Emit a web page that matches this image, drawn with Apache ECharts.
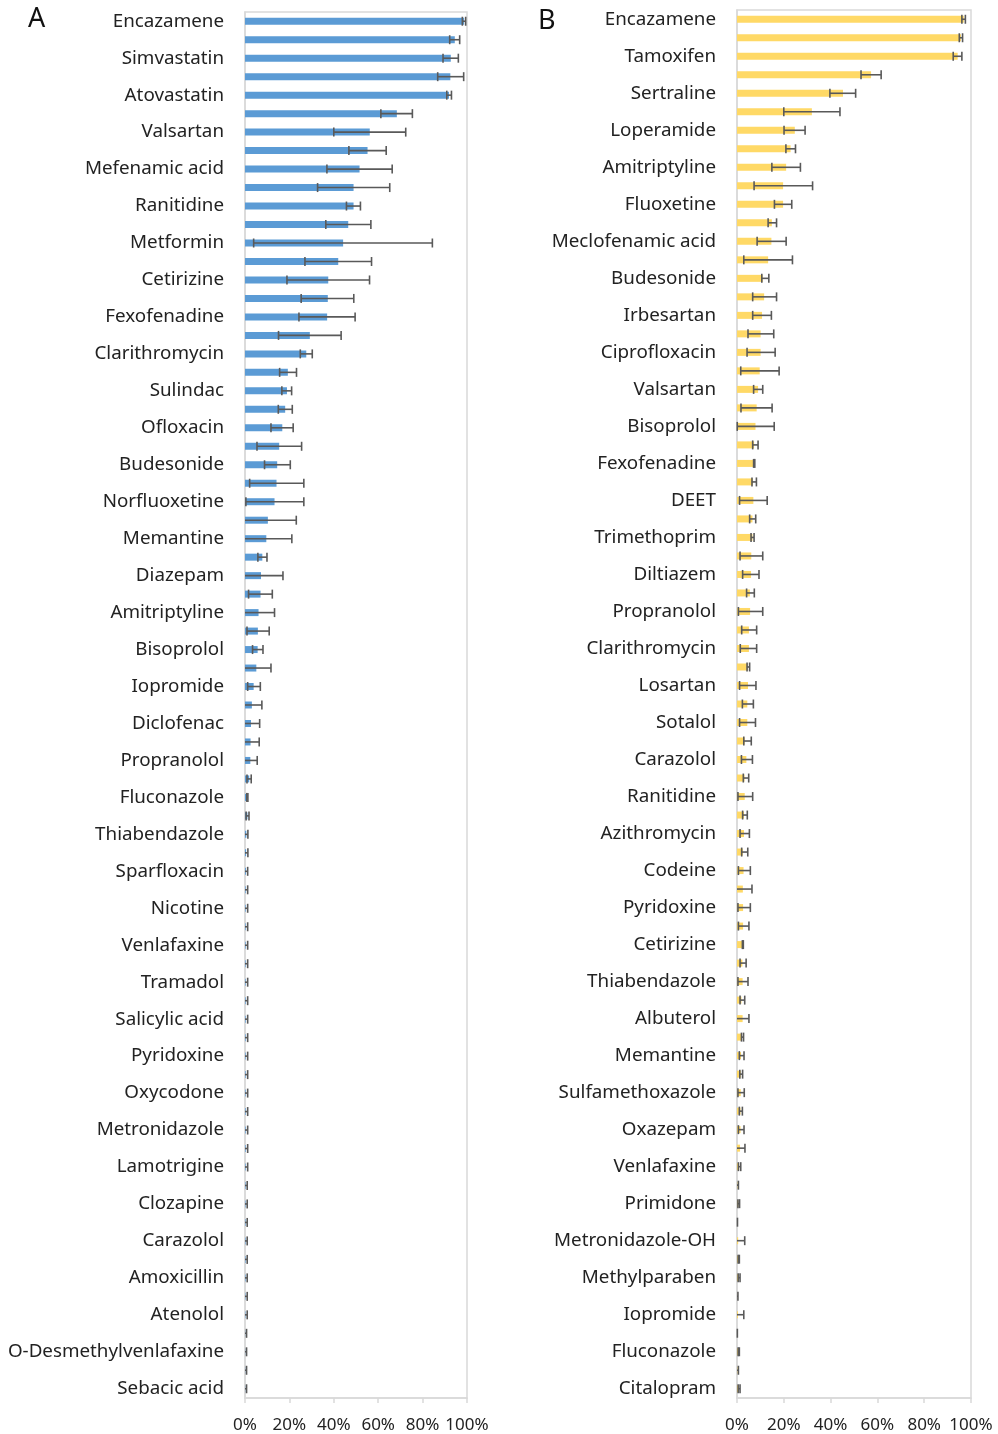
<!DOCTYPE html>
<html>
<head>
<meta charset="utf-8">
<script src="https://cdn.jsdelivr.net/npm/echarts@6/dist/echarts.min.js"></script>
<style>
html,body{margin:0;padding:0;background:#fff;}
#chart{width:998px;height:1434px;}
</style>
</head>
<body>
<div id="chart"></div>
<script>
// ---- Panel A: labels shown on every other category (75 categories) ----
const labelsA = ['Encazamene','Simvastatin','Atovastatin','Valsartan','Mefenamic acid','Ranitidine','Metformin','Cetirizine','Fexofenadine','Clarithromycin','Sulindac','Ofloxacin','Budesonide','Norfluoxetine','Memantine','Diazepam','Amitriptyline','Bisoprolol','Iopromide','Diclofenac','Propranolol','Fluconazole','Thiabendazole','Sparfloxacin','Nicotine','Venlafaxine','Tramadol','Salicylic acid','Pyridoxine','Oxycodone','Metronidazole','Lamotrigine','Clozapine','Carazolol','Amoxicillin','Atenolol','O-Desmethylvenlafaxine','Sebacic acid'];
const valuesA = [98.7,94.5,92.7,92.5,91.9,68.4,56.2,55.2,51.6,48.9,48.9,46.5,44.2,42.0,37.5,37.3,37.0,29.2,27.6,19.3,18.9,18.1,16.8,15.4,14.5,14.2,13.3,10.3,9.6,7.8,7.2,7.0,6.1,5.8,5.7,5.1,3.9,3.1,2.7,2.5,2.4,1.9,1.0,1.1,0.6,0.5,0.4,0.3,0.3,0.3,0.3,0.3,0.3,0.3,0.3,0.3,0.3,0.3,0.3,0.3,0.3,0.3,0.3,0.25,0.25,0.25,0.25,0.25,0.25,0.2,0.2,0.1,0.1,0.1,0.1];
const lowA = [97.9,92.2,89.2,86.8,90.9,61.2,40.0,46.8,36.9,32.7,45.7,36.4,3.9,27.0,18.9,25.3,24.3,15.1,24.9,15.6,16.6,15.0,11.7,5.4,8.8,2.1,0.4,-2.5,-1.9,5.8,-2.7,1.6,-1.1,0.9,3.4,-1.5,1.2,-1.4,-1.2,-1.4,-0.7,0.9,0.8,0.5,-0.1,-0.2,-0.4,-0.6,-0.6,-0.6,-0.6,-0.6,-0.6,-0.6,-0.6,-0.6,-0.6,-0.6,-0.6,-0.6,-0.6,-0.6,-0.6,-0.5,-0.5,-0.5,-0.5,-0.5,-0.5,-0.4,-0.4,-0.5,-0.5,-0.5,-0.5];
const highA = [99.4,96.7,96.1,98.5,93.0,75.4,72.4,63.6,66.3,65.2,52.0,56.7,84.4,57.0,56.1,49.0,49.6,43.3,30.3,23.2,21.0,21.3,21.7,25.5,20.4,26.5,26.5,23.1,21.1,9.9,17.1,12.3,13.3,10.9,8.1,11.7,6.9,7.6,6.6,6.4,5.5,2.8,1.3,1.8,1.3,1.3,1.2,1.2,1.2,1.2,1.2,1.2,1.2,1.2,1.2,1.2,1.2,1.2,1.2,1.2,1.2,1.2,1.2,1.0,1.0,1.0,1.0,1.0,1.0,1.0,1.0,0.7,0.7,0.7,0.7];

// ---- Panel B ----
const labelsB = ['Encazamene','Tamoxifen','Sertraline','Loperamide','Amitriptyline','Fluoxetine','Meclofenamic acid','Budesonide','Irbesartan','Ciprofloxacin','Valsartan','Bisoprolol','Fexofenadine','DEET','Trimethoprim','Diltiazem','Propranolol','Clarithromycin','Losartan','Sotalol','Carazolol','Ranitidine','Azithromycin','Codeine','Pyridoxine','Cetirizine','Thiabendazole','Albuterol','Memantine','Sulfamethoxazole','Oxazepam','Venlafaxine','Primidone','Metronidazole-OH','Methylparaben','Iopromide','Fluconazole','Citalopram'];
const valuesB = [96.9,95.7,94.3,57.3,45.3,32.0,24.7,22.9,21.0,19.7,19.7,14.9,14.7,13.3,11.0,11.6,10.7,10.1,10.1,9.7,9.0,8.4,7.9,7.3,7.3,6.8,7.0,6.6,6.6,6.1,6.0,5.5,5.6,5.1,5.1,4.6,4.7,4.4,4.4,3.3,4.0,3.2,3.3,3.0,3.0,2.5,2.8,2.5,2.6,2.6,2.2,2.3,2.4,1.9,2.4,1.9,1.7,1.6,1.6,1.5,1.5,1.3,0.9,0.2,0.6,0.05,0.5,0.6,0.7,0.1,0.4,0.05,0.6,0.2,0.7];
const lowB = [96.1,95.0,92.4,53.0,39.7,20.0,20.1,20.9,14.9,7.3,16.0,13.3,8.6,2.9,10.6,6.7,6.7,4.7,4.3,1.6,7.1,1.7,0.1,6.7,7.1,6.4,1.1,5.4,6.0,1.3,2.4,4.1,0.6,2.0,1.4,4.3,1.1,2.3,1.1,2.9,1.9,2.7,0.4,2.4,1.3,2.0,0.6,-1.4,0.4,0.6,2.3,1.3,0.4,1.3,-1.0,1.9,1.0,1.2,0.4,1.0,0.6,-1.0,0.6,-0.2,0.4,-0.1,-2.3,0.5,0.5,-0.2,-2.1,-0.05,0.5,-0.2,0.5];
const highB = [97.6,96.4,96.1,61.6,50.7,44.0,29.1,25.0,27.1,32.3,23.4,16.9,21.0,23.7,13.6,16.9,14.7,15.7,16.3,18.0,11.0,15.0,15.9,9.0,7.6,8.3,12.9,8.0,7.3,11.0,9.4,7.4,11.0,8.4,8.4,5.4,8.1,7.0,7.9,6.1,6.6,5.0,6.7,4.4,5.3,4.6,5.7,6.4,5.7,5.1,2.7,3.9,4.7,3.3,5.1,2.8,3.0,2.4,3.1,2.3,3.0,3.4,1.6,0.6,1.1,0.2,3.3,1.0,1.3,0.4,2.9,0.15,1.0,0.6,1.3];

const xTicks = [0,20,40,60,80,100];

function buildCategories(labels, n) {
  const cats = [];
  for (let i = 0; i < n; i++) cats.push(i % 2 === 0 ? labels[i / 2] : '');
  return cats;
}
const catsA = buildCategories(labelsA, valuesA.length);
const catsB = buildCategories(labelsB, valuesB.length);

function errData(low, high) {
  return low.map((l, i) => [i, l, high[i]]);
}

function renderErr(params, api) {
  const idx = api.value(0), lo = api.value(1), hi = api.value(2);
  const yc = api.coord([0, idx])[1];
  const x0 = api.coord([Math.max(lo, 0), idx])[0];
  const x1 = api.coord([hi, idx])[0];
  const h = 4.5;
  const style = {stroke: '#595959', lineWidth: 1.6};
  const children = [{type: 'line', shape: {x1: x0, y1: yc, x2: x1, y2: yc}, style}];
  if (lo >= 0) children.push({type: 'line', shape: {x1: x0, y1: yc - h, x2: x0, y2: yc + h}, style});
  children.push({type: 'line', shape: {x1: x1, y1: yc - h, x2: x1, y2: yc + h}, style});
  return {type: 'group', children};
}

const FONT = 'Noto Sans';
function xAxisCfg(gi) {
  return {
    type: 'value', gridIndex: gi, min: xTicks[0], max: xTicks[xTicks.length - 1], interval: 20,
    axisLine: {show: true, lineStyle: {color: '#d9d9d9', width: 1.5}},
    axisTick: {show: true, length: 5, lineStyle: {color: '#d9d9d9', width: 1.5}},
    splitLine: {show: false},
    axisLabel: {formatter: '{value}%', color: '#222', fontSize: 17, fontFamily: FONT, margin: 19}
  };
}
function yAxisCfg(gi, cats) {
  return {
    type: 'category', gridIndex: gi, data: cats, inverse: true,
    axisLine: {show: true, lineStyle: {color: '#d9d9d9', width: 1.5}},
    axisTick: {show: false},
    axisLabel: {interval: 1, color: '#222', fontSize: 18.8, fontFamily: FONT, margin: 21}
  };
}

const chart = echarts.init(document.getElementById('chart'), null, {renderer: 'canvas'});
chart.setOption({
  backgroundColor: '#fff',
  animation: false,
  textStyle: {fontFamily: FONT},
  grid: [
    {left: 245, width: 222, top: 12, bottom: 36, show: true, borderColor: '#d9d9d9', borderWidth: 1.5, containLabel: false},
    {left: 737, width: 234, top: 10, bottom: 36, show: true, borderColor: '#d9d9d9', borderWidth: 1.5, containLabel: false}
  ],
  xAxis: [xAxisCfg(0), xAxisCfg(1)],
  yAxis: [yAxisCfg(0, catsA), yAxisCfg(1, catsB)],
  graphic: [
    {type: 'text', left: 28, top: 6, style: {text: 'A', fontSize: 27, fontFamily: FONT, fill: '#111'}},
    {type: 'text', left: 538, top: 8, style: {text: 'B', fontSize: 27, fontFamily: FONT, fill: '#111'}}
  ],
  series: [
    {type: 'bar', xAxisIndex: 0, yAxisIndex: 0, data: valuesA, barWidth: 7, itemStyle: {color: '#5B9BD5'}},
    {type: 'custom', xAxisIndex: 0, yAxisIndex: 0, data: errData(lowA, highA), encode: {y: 0, x: [1, 2]}, renderItem: renderErr, z: 5},
    {type: 'bar', xAxisIndex: 1, yAxisIndex: 1, data: valuesB, barWidth: 7, itemStyle: {color: '#FFD966'}},
    {type: 'custom', xAxisIndex: 1, yAxisIndex: 1, data: errData(lowB, highB), encode: {y: 0, x: [1, 2]}, renderItem: renderErr, z: 5}
  ]
});
</script>
</body>
</html>
